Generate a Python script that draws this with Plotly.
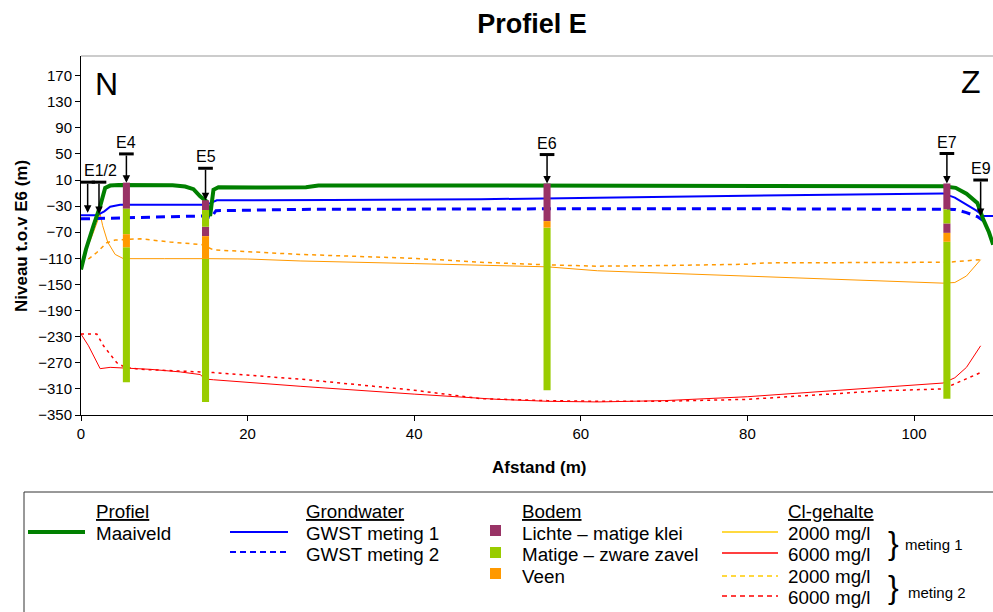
import plotly.graph_objects as go

# ---------------- data ----------------
maaiveld_x = [0, 0.6, 1.5, 2.3, 2.9, 3.5, 4.5, 8, 11, 12.5, 13.5, 14.3, 15.0, 15.5, 15.9, 16.5, 18, 22, 27, 28.5, 50, 80, 100, 103.5, 105, 106.3, 107.6, 108.3, 109, 109.5]
maaiveld_y = [-127, -96, -60, -30, -2, 1.5, 2.5, 2.5, 2, 0, -4, -15, -22, -45, -5, -1, -1.5, -1.5, -1, 1.5, 1.5, 1.5, 1, 0.5, -2, -11, -25, -50, -70, -89]

gwst1_x = [0, 1.9, 2.8, 3.5, 4.7, 15, 15.6, 16.3, 30, 48, 62, 96, 103.5, 104.9, 106.3, 107.6, 108.3, 109.5]
gwst1_y = [-44, -44, -38, -31, -28, -28, -25, -21, -20.5, -19.5, -17, -12, -10.5, -17, -27.5, -37.7, -45, -45]

gwst2_x = [0, 2, 6, 10, 14.8, 15.6, 16.2, 26, 48, 62, 80, 104, 104.9, 106.3, 107.6, 108.5]
gwst2_y = [-49.5, -49, -48, -46.5, -45, -48, -37, -35, -34, -34, -34, -34, -35, -40, -46, -54]

cl2000_m1_x = [0, 0.6, 1.2, 2.3, 2.6, 3.2, 4.1, 5.1, 10, 14.5, 15.2, 20, 26.3, 40, 56, 62, 80, 96, 103.5, 104.9, 106.3, 108]
cl2000_m1_y = [-125, -97, -80, -42, -60, -85, -104, -110.5, -110.5, -110, -110.5, -111, -114, -118, -123, -129, -137, -145, -148, -147, -137, -112]

cl6000_m1_x = [0, 0.9, 2.3, 3.5, 8.3, 11.9, 14.3, 14.9, 15.9, 26.3, 40, 50, 56, 62, 70, 80, 90, 96, 103.5, 104.9, 106.3, 108]
cl6000_m1_y = [-226, -244, -279, -277, -280, -284, -288, -295, -296, -306, -318, -326, -329, -330, -328, -322, -313, -308, -301, -293, -277, -244]

cl2000_m2_x = [0, 1.0, 1.9, 3.1, 4.1, 7.1, 10.7, 14.5, 15.9, 26.3, 40, 48, 56, 62, 70, 80, 82, 90, 100, 104, 106, 108]
cl2000_m2_y = [-116, -110, -101, -86, -82, -80, -85, -89, -97, -104, -110, -116, -120, -122, -121, -119, -117, -117, -116, -116, -114, -112]

cl6000_m2_x = [0, 1.9, 2.7, 4.3, 5.3, 7.1, 14.3, 15.9, 26.3, 40, 48, 56, 62, 70, 80, 90, 96, 103.5, 106.3, 108]
cl6000_m2_y = [-226, -226, -244, -270, -277, -280, -284, -285, -295, -312, -325, -328, -329, -329, -326, -318, -313, -310, -295, -285]

# boreholes: (x, top, bottom)
klei_x = [5.45, 14.95, 14.95, 55.95, 103.95, 103.95]
klei_top = [6, -21, -61.6, 4.7, 4.7, -56.5]
klei_bot = [-34, -36, -76, -53, -35, -71]

zavel_x = [5.45, 5.45, 14.95, 14.95, 55.95, 103.95, 103.95]
zavel_top = [-34, -93, -36, -110.6, -63, -35, -84.6]
zavel_bot = [-73, -300, -61.6, -330, -312, -56.5, -325]

veen_x = [5.45, 14.95, 55.95, 103.95]
veen_top = [-73, -76, -53, -71]
veen_bot = [-93, -110.6, -63, -84.6]

# boring markers
marker_labels = ["E1/2", "E4", "E5", "E6", "E7", "E9"]
marker_label_x = [2.35, 5.45, 14.95, 55.95, 103.95, 108.0]
marker_cap_y = [6.7, 50, 28, 49, 50.6, 10]
cap_x = [0.8, 2.16, 5.45, 14.95, 55.95, 103.95, 108.0]
cap_y = [6.7, 6.7, 50, 28, 49, 50.6, 10]
arrow_tip_y = [-40, -42, 6, -21, 4.7, 4.7, -45]

y_ticks = [-350, -310, -270, -230, -190, -150, -110, -70, -30, 10, 50, 90, 130, 170]
x_ticks = [0, 20, 40, 60, 80, 100]

# ---------------- colours ----------------
C_GREEN = "#008000"
C_BLUE = "#0000FF"
C_ORANGE = "#FF9900"
C_YELLOW = "#FFCC00"
C_RED = "#FF0000"
C_KLEI = "#993366"
C_ZAVEL = "#99CC00"
C_VEEN = "#FF9900"
FONT = "Liberation Sans, Arial, sans-serif"

W, H = 993, 612
L, R, T, B = 81, 0, 56, 197
PW, PH = W - L - R, H - T - B


def px_x(p):
    return (p - L) / PW


def px_y(p):
    return (H - B - p) / PH


fig = go.Figure()


def line(x, y, color, width, dash="solid"):
    fig.add_trace(go.Scatter(x=x, y=y, mode="lines", showlegend=False, hoverinfo="skip",
                             line=dict(color=color, width=width, dash=dash)))


line(cl2000_m1_x, cl2000_m1_y, C_ORANGE, 1)
line(cl2000_m2_x, cl2000_m2_y, C_ORANGE, 1.5, "4px,4px")
line(cl6000_m1_x, cl6000_m1_y, C_RED, 1)
line(cl6000_m2_x, cl6000_m2_y, C_RED, 1.5, "3px,4px")
line(gwst2_x, gwst2_y, C_BLUE, 3, "9px,6px")
line(gwst1_x, gwst1_y, C_BLUE, 2)
line(maaiveld_x, maaiveld_y, C_GREEN, 4)

# caps of the boring markers
cx, cy = [], []
for xc, yc in zip(cap_x, cap_y):
    cx += [xc - 0.88, xc + 0.88, None]
    cy += [yc, yc, None]
fig.add_trace(go.Scatter(x=cx, y=cy, mode="lines", showlegend=False, hoverinfo="skip",
                         line=dict(color="black", width=3)))

# soil columns (overlay axis so that they sit on top of the lines)
for xs, tops, bots, col in [(klei_x, klei_top, klei_bot, C_KLEI),
                            (zavel_x, zavel_top, zavel_bot, C_ZAVEL),
                            (veen_x, veen_top, veen_bot, C_VEEN)]:
    fig.add_trace(go.Bar(x=xs, y=[t - b for t, b in zip(tops, bots)], base=bots, width=0.85,
                         marker=dict(color=col, line=dict(width=0)), showlegend=False,
                         hoverinfo="skip", xaxis="x2", yaxis="y2"))

XR = [0, PW / 8.33]
YR = [-350, 200]

annotations = []
# arrows
for xc, yc, yt in zip(cap_x, cap_y, arrow_tip_y):
    annotations.append(dict(x=xc, y=yt, ax=xc, ay=yc, xref="x", yref="y", axref="x", ayref="y",
                            text="", showarrow=True, arrowhead=2, arrowsize=1, arrowwidth=1.5,
                            arrowcolor="black", standoff=0))
# marker labels
for lab, xl, yl in zip(marker_labels, marker_label_x, marker_cap_y):
    annotations.append(dict(x=xl, y=yl, xref="x", yref="y", text=lab, showarrow=False,
                            yanchor="bottom", yshift=1, font=dict(size=16, color="black", family=FONT)))

# N / Z
annotations.append(dict(x=px_x(106), y=px_y(84), xref="paper", yref="paper", text="N", showarrow=False,
                        xanchor="center", yanchor="middle", font=dict(size=32, color="black", family=FONT)))
annotations.append(dict(x=px_x(971), y=px_y(82), xref="paper", yref="paper", text="Z", showarrow=False,
                        xanchor="center", yanchor="middle", font=dict(size=32, color="black", family=FONT)))

# axis titles
annotations.append(dict(x=px_x(539), y=px_y(467), xref="paper", yref="paper", text="<b>Afstand (m)</b>",
                        showarrow=False, xanchor="center", yanchor="middle",
                        font=dict(size=17, color="black", family=FONT)))
annotations.append(dict(x=px_x(21), y=px_y(236), xref="paper", yref="paper", text="<b>Niveau t.o.v E6 (m)</b>",
                        showarrow=False, xanchor="center", yanchor="middle", textangle=-90,
                        font=dict(size=17, color="black", family=FONT)))

# legend texts
def ltxt(x, y, t, size=18.8, anchor="left"):
    annotations.append(dict(x=px_x(x), y=px_y(y), xref="paper", yref="paper", text=t, showarrow=False,
                            xanchor=anchor, yanchor="middle", font=dict(size=size, color="black", family=FONT)))


ltxt(94, 512, "<u>Profiel</u>")
ltxt(94, 533, "Maaiveld")
ltxt(304, 512, "<u>Grondwater</u>")
ltxt(304, 533, "GWST meting 1")
ltxt(304, 554, "GWST meting 2")
ltxt(520, 512, "<u>Bodem</u>")
ltxt(520, 533, "Lichte – matige klei")
ltxt(520, 554, "Matige – zware zavel")
ltxt(520, 576, "Veen")
ltxt(786, 512, "<u>Cl-gehalte</u>")
ltxt(786, 533, "2000 mg/l")
ltxt(786, 554, "6000 mg/l")
ltxt(786, 576, "2000 mg/l")
ltxt(786, 597, "6000 mg/l")
ltxt(893, 543, "}", size=32, anchor="center")
ltxt(893, 587, "}", size=32, anchor="center")
ltxt(903, 544, "meting 1", size=15)
ltxt(906, 592, "meting 2", size=15)

shapes = []
# top frame line
shapes.append(dict(type="line", xref="paper", yref="paper", x0=0, x1=1, y0=1, y1=1,
                   line=dict(color="#999999", width=1)))
# legend box
shapes.append(dict(type="rect", xref="paper", yref="paper", x0=px_x(24), x1=px_x(1010),
                   y0=px_y(630), y1=px_y(492), line=dict(color="#333333", width=1), fillcolor="rgba(0,0,0,0)"))


def lseg(x0, x1, y, color, width, dash="solid"):
    shapes.append(dict(type="line", xref="paper", yref="paper", x0=px_x(x0), x1=px_x(x1),
                       y0=px_y(y), y1=px_y(y), line=dict(color=color, width=width, dash=dash)))


def lsq(y0, y1, color):
    shapes.append(dict(type="rect", xref="paper", yref="paper", x0=px_x(490), x1=px_x(501),
                       y0=px_y(y1), y1=px_y(y0), line=dict(width=0), fillcolor=color))


lseg(28, 85, 532, C_GREEN, 4)
lseg(230, 288, 532, C_BLUE, 2)
lseg(230, 288, 552, C_BLUE, 2, "6px,4px")
lsq(525, 536, C_KLEI)
lsq(547, 558, C_ZAVEL)
lsq(568, 579, C_VEEN)
lseg(722, 778, 532, C_YELLOW, 1.5)
lseg(722, 778, 553, C_RED, 1.5)
lseg(722, 778, 576, C_YELLOW, 1.5, "5px,4px")
lseg(722, 778, 596, C_RED, 1.5, "5px,4px")

fig.update_layout(
    width=W, height=H,
    margin=dict(l=L, r=R, t=T, b=B),
    paper_bgcolor="white", plot_bgcolor="white",
    barmode="overlay",
    showlegend=False,
    title=dict(text="<b>Profiel E</b>", x=px_x(532), xref="paper", xanchor="center",
               y=1 - 24 / H, yref="container", yanchor="middle",
               font=dict(size=27, color="black", family=FONT)),
    font=dict(family=FONT, color="black"),
    xaxis=dict(range=XR, tickvals=x_ticks, ticks="outside", ticklen=5, tickcolor="black",
               showline=True, linecolor="black", linewidth=1, showgrid=False, zeroline=False,
               tickfont=dict(size=15, color="black", family=FONT)),
    yaxis=dict(range=YR, tickvals=y_ticks, ticks="outside", ticklen=5, tickcolor="black",
               showline=True, linecolor="black", linewidth=1, showgrid=False, zeroline=False,
               tickfont=dict(size=15, color="black", family=FONT)),
    xaxis2=dict(range=XR, overlaying="x", anchor="y2", visible=False),
    yaxis2=dict(range=YR, overlaying="y", anchor="x2", visible=False),
    annotations=annotations,
    shapes=shapes,
)

fig.write_html("out.html")
